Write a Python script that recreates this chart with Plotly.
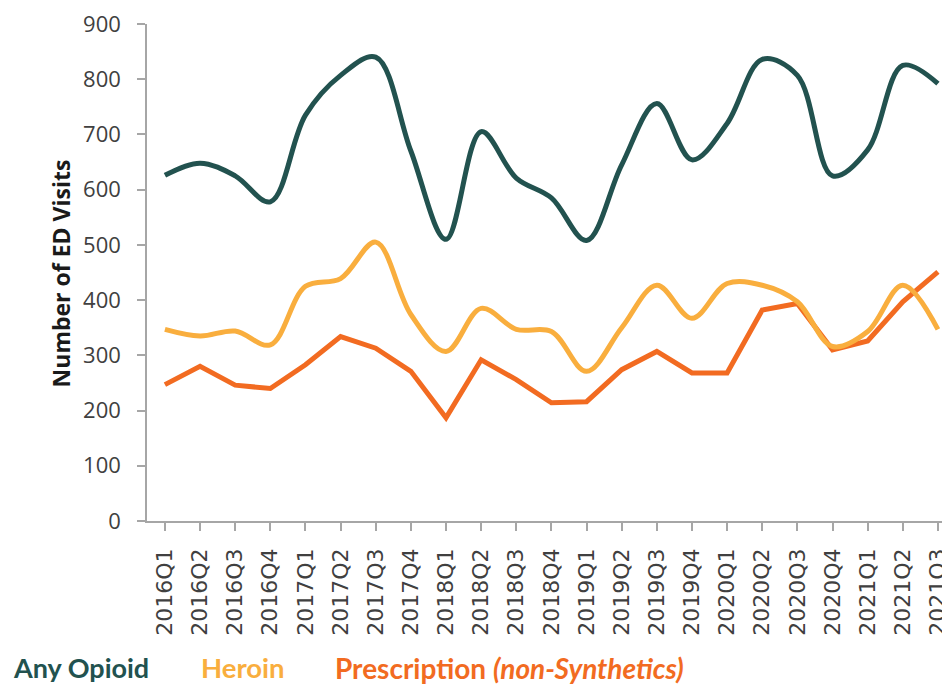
import plotly.graph_objects as go

quarters = ["2016Q1","2016Q2","2016Q3","2016Q4","2017Q1","2017Q2","2017Q3","2017Q4",
            "2018Q1","2018Q2","2018Q3","2018Q4","2019Q1","2019Q2","2019Q3","2019Q4",
            "2020Q1","2020Q2","2020Q3","2020Q4","2021Q1","2021Q2","2021Q3"]
any_opioid = [626, 648, 625, 578, 735, 807, 840, 670, 510, 705, 621, 585, 508, 645,
              756, 654, 720, 836, 807, 625, 672, 825, 792]
heroin = [347, 335, 344, 319, 425, 439, 505, 374, 307, 385, 347, 343, 271, 350,
          427, 367, 430, 427, 397, 316, 343, 427, 347]
prescription = [247, 280, 246, 240, 283, 334, 313, 271, 187, 292, 256, 214, 216, 274,
                307, 268, 268, 382, 394, 310, 326, 397, 451]
y_ticks = [0, 100, 200, 300, 400, 500, 600, 700, 800, 900]

C_ANY = "#22524F"
C_HER = "#F9AE3E"
C_PRE = "#F26B21"

x = list(range(len(quarters)))
fig = go.Figure()
fig.add_trace(go.Scatter(x=x, y=prescription, mode="lines", line=dict(color=C_PRE, width=5),
                         name="Prescription"))
fig.add_trace(go.Scatter(x=x, y=heroin, mode="lines", line=dict(color=C_HER, width=5, shape="spline", smoothing=1),
                         name="Heroin"))
fig.add_trace(go.Scatter(x=x, y=any_opioid, mode="lines", line=dict(color=C_ANY, width=5, shape="spline", smoothing=1),
                         name="Any Opioid"))

# page body has an 8px margin; work in figure coordinates
OFF = 8
W, H = 950 - OFF, 689 - OFF
L, T, B, R = 147 - OFF, 20 - OFF, 521 - OFF, W
fig.update_layout(
    width=W, height=H,
    margin=dict(l=L, r=W - R, t=T, b=H - B, pad=0),
    paper_bgcolor="white", plot_bgcolor="white",
    showlegend=False,
    xaxis=dict(
        range=[-0.51, 22.23], tickmode="array", tickvals=x, ticktext=quarters,
        tickson="boundaries", ticks="outside", ticklen=8, tickcolor="#A6A6A6", tickwidth=1.5,
        showline=True, linecolor="#A6A6A6", linewidth=1.5, showgrid=False, zeroline=False,
        tickangle=-90, ticklabelstandoff=9, ticklabeloverflow="allow",
        tickfont=dict(family="DejaVu Sans, sans-serif", size=22, color="#404040"),
    ),
    yaxis=dict(
        range=[0, 900], tickvals=y_ticks, ticks="outside", ticklen=8, tickcolor="#A6A6A6", tickwidth=1.5,
        showline=True, linecolor="#A6A6A6", linewidth=1.5, showgrid=False, zeroline=False,
        ticklabelstandoff=12, ticklabeloverflow="allow",
        tickfont=dict(family="Open Sans, sans-serif", size=22, color="#404040"),
    ),
)

pw = R - L
ph = B - T
def px(xp):
    return (xp - OFF - L) / pw
def py(yp):
    return (B - (yp - OFF)) / ph

fig.add_annotation(text="<b>Number of ED Visits</b>", textangle=-90, xref="paper", yref="paper",
                   x=px(61), y=py(271), showarrow=False, xanchor="center", yanchor="middle",
                   font=dict(family="Open Sans, sans-serif", size=23, color="#1a1a1a"))

leg_font = "Lato, sans-serif"
LEG_Y = 669
fig.add_annotation(text="<b>Any Opioid</b>", xref="paper", yref="paper", x=px(10), y=py(LEG_Y),
                   xanchor="left", yanchor="middle", showarrow=False,
                   font=dict(family=leg_font, size=27, color=C_ANY))
fig.add_annotation(text="<b>Heroin</b>", xref="paper", yref="paper", x=px(199), y=py(LEG_Y),
                   xanchor="left", yanchor="middle", showarrow=False,
                   font=dict(family=leg_font, size=27.5, color=C_HER))
fig.add_annotation(text="<b>Prescription <i>(non-Synthetics)</i></b>", xref="paper", yref="paper", x=px(334), y=py(LEG_Y),
                   xanchor="left", yanchor="middle", showarrow=False,
                   font=dict(family=leg_font, size=28, color=C_PRE))

fig.write_html("out.html")
